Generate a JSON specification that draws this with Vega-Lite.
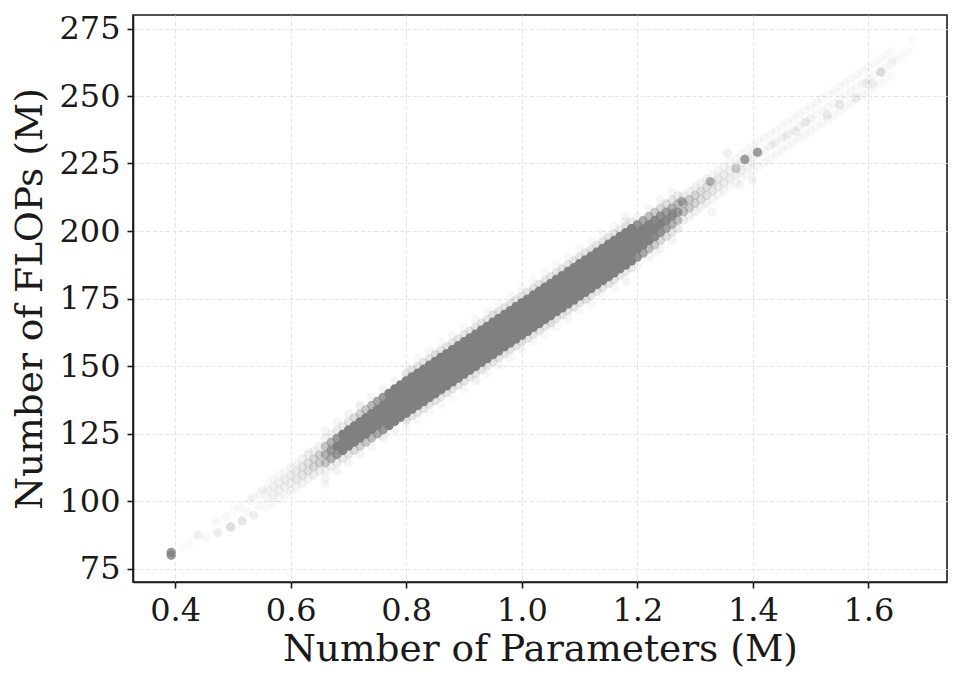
{
"$schema": "https://vega.github.io/schema/vega-lite/v6.json",
"width": 814, "height": 567,
"autosize": {"type": "none"},
"padding": {"left": 133, "top": 15, "right": 16, "bottom": 104},
"background": "white",
"config": {
 "font": "DejaVu Serif",
 "view": {"stroke": "#1a1a1a", "strokeWidth": 1.6},
 "axis": {"domainColor": "#1a1a1a", "domainWidth": 1.6, "tickColor": "#1a1a1a", "tickWidth": 1.6, "tickSize": 6, "labelFont": "DejaVu Serif", "labelFontSize": 32, "labelColor": "#1a1a1a", "labelPadding": 7, "labelFlush": false, "labelOverlap": false, "titleFont": "DejaVu Serif", "titleFontSize": 37.5, "titleFontWeight": "normal", "titleColor": "#1a1a1a", "gridColor": "#e4e4e4", "gridDash": [4, 2.5], "gridWidth": 1}
},
"data": {"values": [
{"params":0.393,"flops":79.9,"n":40},{"params":0.393,"flops":81.0,"n":40},
{"params":0.411,"flops":83.0,"n":2},{"params":0.425,"flops":84.5,"n":2},{"params":0.439,"flops":87.4,"n":6},{"params":0.454,"flops":86.7,"n":3},{"params":0.474,"flops":88.3,"n":7},{"params":0.471,"flops":92.3,"n":3},{"params":0.489,"flops":94.3,"n":3},{"params":0.496,"flops":90.4,"n":13},{"params":0.50,"flops":97.0,"n":2},{"params":0.512,"flops":97.6,"n":3},{"params":0.516,"flops":92.6,"n":10},{"params":0.525,"flops":96.0,"n":3},{"params":0.529,"flops":100.3,"n":3},{"params":0.536,"flops":94.7,"n":6},{"params":0.5346,"flops":101.5,"n":4},{"params":0.545,"flops":98.0,"n":3},{"params":0.552,"flops":104.0,"n":4},{"params":0.547,"flops":102.5,"n":3},
{"params":0.56,"flops":98.0,"n":2},{"params":0.56,"flops":101.0,"n":4},{"params":0.56,"flops":104.0,"n":4},{"params":0.56,"flops":107.0,"n":2},
{"params":0.57,"flops":99.4,"n":3},{"params":0.57,"flops":102.4,"n":5},{"params":0.57,"flops":105.4,"n":5},{"params":0.57,"flops":108.4,"n":3},
{"params":0.58,"flops":100.8,"n":3},{"params":0.58,"flops":103.8,"n":5},{"params":0.58,"flops":106.8,"n":5},{"params":0.58,"flops":109.8,"n":3},
{"params":0.59,"flops":102.1,"n":3},{"params":0.59,"flops":105.1,"n":6},{"params":0.59,"flops":108.1,"n":6},{"params":0.59,"flops":111.1,"n":3},
{"params":0.60,"flops":103.5,"n":4},{"params":0.60,"flops":106.5,"n":6},{"params":0.60,"flops":109.5,"n":6},{"params":0.60,"flops":112.5,"n":4},
{"params":0.61,"flops":105.0,"n":4},{"params":0.61,"flops":108.0,"n":8},{"params":0.61,"flops":111.0,"n":8},{"params":0.61,"flops":114.0,"n":4},
{"params":0.62,"flops":106.6,"n":5},{"params":0.62,"flops":109.6,"n":10},{"params":0.62,"flops":112.6,"n":10},{"params":0.62,"flops":115.6,"n":5},
{"params":0.63,"flops":108.1,"n":5},{"params":0.63,"flops":111.1,"n":12},{"params":0.63,"flops":114.1,"n":12},{"params":0.63,"flops":117.1,"n":5},
{"params":0.64,"flops":109.6,"n":6},{"params":0.64,"flops":112.6,"n":15},{"params":0.64,"flops":115.6,"n":15},{"params":0.64,"flops":118.6,"n":6},
{"params":0.65,"flops":111.1,"n":6},{"params":0.65,"flops":114.1,"n":18},{"params":0.65,"flops":117.1,"n":18},{"params":0.65,"flops":120.1,"n":6},
{"params":0.66,"flops":111.2,"n":5},{"params":0.66,"flops":114.2,"n":22},{"params":0.66,"flops":117.2,"n":30},{"params":0.66,"flops":120.2,"n":22},{"params":0.66,"flops":123.2,"n":5},{"params":0.66,"flops":108.2,"n":4},{"params":0.66,"flops":126.2,"n":4},
{"params":0.67,"flops":112.7,"n":6},{"params":0.67,"flops":115.7,"n":30},{"params":0.67,"flops":118.7,"n":40},{"params":0.67,"flops":121.7,"n":30},{"params":0.67,"flops":124.7,"n":6},
{"params":0.68,"flops":114.2,"n":7},{"params":0.68,"flops":117.2,"n":40},{"params":0.68,"flops":120.2,"n":50},{"params":0.68,"flops":123.2,"n":40},{"params":0.68,"flops":126.2,"n":7},{"params":0.68,"flops":111.2,"n":4},{"params":0.68,"flops":129.2,"n":4},
{"params":0.69,"flops":115.7,"n":8},{"params":0.69,"flops":118.7,"n":50},{"params":0.69,"flops":121.7,"n":50},{"params":0.69,"flops":124.7,"n":50},{"params":0.69,"flops":127.7,"n":8},
{"params":0.70,"flops":117.3,"n":10},{"params":0.70,"flops":120.3,"n":50},{"params":0.70,"flops":123.3,"n":50},{"params":0.70,"flops":126.3,"n":50},{"params":0.70,"flops":129.3,"n":10},{"params":0.70,"flops":114.3,"n":4},{"params":0.70,"flops":132.3,"n":4},
{"params":0.71,"flops":118.8,"n":14},{"params":0.71,"flops":121.8,"n":50},{"params":0.71,"flops":124.8,"n":50},{"params":0.71,"flops":127.8,"n":50},{"params":0.71,"flops":130.8,"n":14},
{"params":0.72,"flops":120.3,"n":18},{"params":0.72,"flops":123.3,"n":50},{"params":0.72,"flops":126.3,"n":50},{"params":0.72,"flops":129.3,"n":50},{"params":0.72,"flops":132.3,"n":18},{"params":0.72,"flops":117.3,"n":4},{"params":0.72,"flops":135.3,"n":4},
{"params":0.73,"flops":121.8,"n":22},{"params":0.73,"flops":124.8,"n":50},{"params":0.73,"flops":127.8,"n":50},{"params":0.73,"flops":130.8,"n":50},{"params":0.73,"flops":133.8,"n":22},
{"params":0.74,"flops":123.4,"n":28},{"params":0.74,"flops":126.4,"n":50},{"params":0.74,"flops":129.4,"n":50},{"params":0.74,"flops":132.4,"n":50},{"params":0.74,"flops":135.4,"n":28},{"params":0.74,"flops":120.4,"n":4},{"params":0.74,"flops":138.4,"n":4},
{"params":0.75,"flops":124.9,"n":34},{"params":0.75,"flops":127.9,"n":50},{"params":0.75,"flops":130.9,"n":50},{"params":0.75,"flops":133.9,"n":50},{"params":0.75,"flops":136.9,"n":34},
{"params":0.76,"flops":126.4,"n":40},{"params":0.76,"flops":129.4,"n":50},{"params":0.76,"flops":132.4,"n":50},{"params":0.76,"flops":135.4,"n":50},{"params":0.76,"flops":138.4,"n":40},{"params":0.76,"flops":123.4,"n":4},{"params":0.76,"flops":141.4,"n":4},
{"params":0.77,"flops":127.9,"n":50},{"params":0.77,"flops":130.9,"n":50},{"params":0.77,"flops":133.9,"n":50},{"params":0.77,"flops":136.9,"n":50},{"params":0.77,"flops":139.9,"n":50},
{"params":0.78,"flops":129.5,"n":50},{"params":0.78,"flops":132.5,"n":50},{"params":0.78,"flops":135.5,"n":50},{"params":0.78,"flops":138.5,"n":50},{"params":0.78,"flops":141.5,"n":50},{"params":0.78,"flops":126.5,"n":4},{"params":0.78,"flops":144.5,"n":4},
{"params":0.79,"flops":131.0,"n":50},{"params":0.79,"flops":134.0,"n":50},{"params":0.79,"flops":137.0,"n":50},{"params":0.79,"flops":140.0,"n":50},{"params":0.79,"flops":143.0,"n":50},
{"params":0.80,"flops":132.5,"n":50},{"params":0.80,"flops":135.5,"n":50},{"params":0.80,"flops":138.5,"n":50},{"params":0.80,"flops":141.5,"n":50},{"params":0.80,"flops":144.5,"n":50},{"params":0.80,"flops":130.0,"n":10},{"params":0.80,"flops":147.0,"n":10},{"params":0.80,"flops":127.0,"n":3},{"params":0.80,"flops":150.0,"n":3},
{"params":0.81,"flops":134.0,"n":50},{"params":0.81,"flops":137.0,"n":50},{"params":0.81,"flops":140.0,"n":50},{"params":0.81,"flops":143.0,"n":50},{"params":0.81,"flops":146.0,"n":50},{"params":0.81,"flops":131.5,"n":10},{"params":0.81,"flops":148.5,"n":10},
{"params":0.82,"flops":135.4,"n":50},{"params":0.82,"flops":138.4,"n":50},{"params":0.82,"flops":141.4,"n":50},{"params":0.82,"flops":144.4,"n":50},{"params":0.82,"flops":147.4,"n":50},{"params":0.82,"flops":132.9,"n":10},{"params":0.82,"flops":149.9,"n":10},{"params":0.82,"flops":129.9,"n":3},{"params":0.82,"flops":152.9,"n":3},
{"params":0.83,"flops":136.8,"n":50},{"params":0.83,"flops":139.8,"n":50},{"params":0.83,"flops":142.8,"n":50},{"params":0.83,"flops":145.8,"n":50},{"params":0.83,"flops":148.8,"n":50},{"params":0.83,"flops":134.3,"n":10},{"params":0.83,"flops":151.3,"n":10},
{"params":0.84,"flops":138.3,"n":50},{"params":0.84,"flops":141.3,"n":50},{"params":0.84,"flops":144.3,"n":50},{"params":0.84,"flops":147.3,"n":50},{"params":0.84,"flops":150.3,"n":50},{"params":0.84,"flops":135.8,"n":10},{"params":0.84,"flops":152.8,"n":10},{"params":0.84,"flops":132.8,"n":3},{"params":0.84,"flops":155.8,"n":3},
{"params":0.85,"flops":139.7,"n":50},{"params":0.85,"flops":142.7,"n":50},{"params":0.85,"flops":145.7,"n":50},{"params":0.85,"flops":148.7,"n":50},{"params":0.85,"flops":151.7,"n":50},{"params":0.85,"flops":137.2,"n":10},{"params":0.85,"flops":154.2,"n":10},
{"params":0.86,"flops":141.2,"n":50},{"params":0.86,"flops":144.2,"n":50},{"params":0.86,"flops":147.2,"n":50},{"params":0.86,"flops":150.2,"n":50},{"params":0.86,"flops":153.2,"n":50},{"params":0.86,"flops":138.7,"n":10},{"params":0.86,"flops":155.7,"n":10},{"params":0.86,"flops":135.7,"n":3},{"params":0.86,"flops":158.7,"n":3},
{"params":0.87,"flops":142.6,"n":50},{"params":0.87,"flops":145.6,"n":50},{"params":0.87,"flops":148.6,"n":50},{"params":0.87,"flops":151.6,"n":50},{"params":0.87,"flops":154.6,"n":50},{"params":0.87,"flops":140.1,"n":10},{"params":0.87,"flops":157.1,"n":10},
{"params":0.88,"flops":144.1,"n":50},{"params":0.88,"flops":147.1,"n":50},{"params":0.88,"flops":150.1,"n":50},{"params":0.88,"flops":153.1,"n":50},{"params":0.88,"flops":156.1,"n":50},{"params":0.88,"flops":141.6,"n":10},{"params":0.88,"flops":158.6,"n":10},{"params":0.88,"flops":138.6,"n":3},{"params":0.88,"flops":161.6,"n":3},
{"params":0.89,"flops":145.5,"n":50},{"params":0.89,"flops":148.5,"n":50},{"params":0.89,"flops":151.5,"n":50},{"params":0.89,"flops":154.5,"n":50},{"params":0.89,"flops":157.5,"n":50},{"params":0.89,"flops":143.0,"n":10},{"params":0.89,"flops":160.0,"n":10},
{"params":0.90,"flops":147.0,"n":50},{"params":0.90,"flops":150.0,"n":50},{"params":0.90,"flops":153.0,"n":50},{"params":0.90,"flops":156.0,"n":50},{"params":0.90,"flops":159.0,"n":50},{"params":0.90,"flops":144.5,"n":10},{"params":0.90,"flops":161.5,"n":10},{"params":0.90,"flops":141.5,"n":3},{"params":0.90,"flops":164.5,"n":3},
{"params":0.91,"flops":148.4,"n":50},{"params":0.91,"flops":151.4,"n":50},{"params":0.91,"flops":154.4,"n":50},{"params":0.91,"flops":157.4,"n":50},{"params":0.91,"flops":160.4,"n":50},{"params":0.91,"flops":145.9,"n":10},{"params":0.91,"flops":162.9,"n":10},
{"params":0.92,"flops":149.8,"n":50},{"params":0.92,"flops":152.8,"n":50},{"params":0.92,"flops":155.8,"n":50},{"params":0.92,"flops":158.8,"n":50},{"params":0.92,"flops":161.8,"n":50},{"params":0.92,"flops":147.3,"n":10},{"params":0.92,"flops":164.3,"n":10},{"params":0.92,"flops":144.3,"n":3},{"params":0.92,"flops":167.3,"n":3},
{"params":0.93,"flops":151.3,"n":50},{"params":0.93,"flops":154.3,"n":50},{"params":0.93,"flops":157.3,"n":50},{"params":0.93,"flops":160.3,"n":50},{"params":0.93,"flops":163.3,"n":50},{"params":0.93,"flops":148.8,"n":10},{"params":0.93,"flops":165.8,"n":10},
{"params":0.94,"flops":152.7,"n":50},{"params":0.94,"flops":155.7,"n":50},{"params":0.94,"flops":158.7,"n":50},{"params":0.94,"flops":161.7,"n":50},{"params":0.94,"flops":164.7,"n":50},{"params":0.94,"flops":150.2,"n":10},{"params":0.94,"flops":167.2,"n":10},{"params":0.94,"flops":147.2,"n":3},{"params":0.94,"flops":170.2,"n":3},
{"params":0.95,"flops":154.2,"n":50},{"params":0.95,"flops":157.2,"n":50},{"params":0.95,"flops":160.2,"n":50},{"params":0.95,"flops":163.2,"n":50},{"params":0.95,"flops":166.2,"n":50},{"params":0.95,"flops":151.7,"n":10},{"params":0.95,"flops":168.7,"n":10},
{"params":0.96,"flops":155.6,"n":50},{"params":0.96,"flops":158.6,"n":50},{"params":0.96,"flops":161.6,"n":50},{"params":0.96,"flops":164.6,"n":50},{"params":0.96,"flops":167.6,"n":50},{"params":0.96,"flops":153.1,"n":10},{"params":0.96,"flops":170.1,"n":10},{"params":0.96,"flops":150.1,"n":3},{"params":0.96,"flops":173.1,"n":3},
{"params":0.97,"flops":157.1,"n":50},{"params":0.97,"flops":160.1,"n":50},{"params":0.97,"flops":163.1,"n":50},{"params":0.97,"flops":166.1,"n":50},{"params":0.97,"flops":169.1,"n":50},{"params":0.97,"flops":154.6,"n":10},{"params":0.97,"flops":171.6,"n":10},
{"params":0.98,"flops":158.5,"n":50},{"params":0.98,"flops":161.5,"n":50},{"params":0.98,"flops":164.5,"n":50},{"params":0.98,"flops":167.5,"n":50},{"params":0.98,"flops":170.5,"n":50},{"params":0.98,"flops":156.0,"n":10},{"params":0.98,"flops":173.0,"n":10},{"params":0.98,"flops":153.0,"n":3},{"params":0.98,"flops":176.0,"n":3},
{"params":0.99,"flops":160.0,"n":50},{"params":0.99,"flops":163.0,"n":50},{"params":0.99,"flops":166.0,"n":50},{"params":0.99,"flops":169.0,"n":50},{"params":0.99,"flops":172.0,"n":50},{"params":0.99,"flops":157.5,"n":10},{"params":0.99,"flops":174.5,"n":10},
{"params":1.00,"flops":161.4,"n":50},{"params":1.00,"flops":164.4,"n":50},{"params":1.00,"flops":167.4,"n":50},{"params":1.00,"flops":170.4,"n":50},{"params":1.00,"flops":173.4,"n":50},{"params":1.00,"flops":158.9,"n":10},{"params":1.00,"flops":175.9,"n":10},{"params":1.00,"flops":155.9,"n":3},{"params":1.00,"flops":178.9,"n":3},
{"params":1.01,"flops":162.8,"n":50},{"params":1.01,"flops":165.8,"n":50},{"params":1.01,"flops":168.8,"n":50},{"params":1.01,"flops":171.8,"n":50},{"params":1.01,"flops":174.8,"n":50},{"params":1.01,"flops":160.3,"n":10},{"params":1.01,"flops":177.3,"n":10},
{"params":1.02,"flops":164.3,"n":50},{"params":1.02,"flops":167.3,"n":50},{"params":1.02,"flops":170.3,"n":50},{"params":1.02,"flops":173.3,"n":50},{"params":1.02,"flops":176.3,"n":50},{"params":1.02,"flops":161.8,"n":10},{"params":1.02,"flops":178.8,"n":10},{"params":1.02,"flops":158.8,"n":3},{"params":1.02,"flops":181.8,"n":3},
{"params":1.03,"flops":165.7,"n":50},{"params":1.03,"flops":168.7,"n":50},{"params":1.03,"flops":171.7,"n":50},{"params":1.03,"flops":174.7,"n":50},{"params":1.03,"flops":177.7,"n":50},{"params":1.03,"flops":163.2,"n":10},{"params":1.03,"flops":180.2,"n":10},
{"params":1.04,"flops":167.2,"n":50},{"params":1.04,"flops":170.2,"n":50},{"params":1.04,"flops":173.2,"n":50},{"params":1.04,"flops":176.2,"n":50},{"params":1.04,"flops":179.2,"n":50},{"params":1.04,"flops":164.7,"n":10},{"params":1.04,"flops":181.7,"n":10},{"params":1.04,"flops":161.7,"n":3},{"params":1.04,"flops":184.7,"n":3},
{"params":1.05,"flops":168.6,"n":50},{"params":1.05,"flops":171.6,"n":50},{"params":1.05,"flops":174.6,"n":50},{"params":1.05,"flops":177.6,"n":50},{"params":1.05,"flops":180.6,"n":50},{"params":1.05,"flops":166.1,"n":10},{"params":1.05,"flops":183.1,"n":10},
{"params":1.06,"flops":170.1,"n":50},{"params":1.06,"flops":173.1,"n":50},{"params":1.06,"flops":176.1,"n":50},{"params":1.06,"flops":179.1,"n":50},{"params":1.06,"flops":182.1,"n":50},{"params":1.06,"flops":167.6,"n":10},{"params":1.06,"flops":184.6,"n":10},{"params":1.06,"flops":164.6,"n":3},{"params":1.06,"flops":187.6,"n":3},
{"params":1.07,"flops":171.5,"n":50},{"params":1.07,"flops":174.5,"n":50},{"params":1.07,"flops":177.5,"n":50},{"params":1.07,"flops":180.5,"n":50},{"params":1.07,"flops":183.5,"n":50},{"params":1.07,"flops":169.0,"n":10},{"params":1.07,"flops":186.0,"n":10},
{"params":1.08,"flops":173.0,"n":50},{"params":1.08,"flops":176.0,"n":50},{"params":1.08,"flops":179.0,"n":50},{"params":1.08,"flops":182.0,"n":50},{"params":1.08,"flops":185.0,"n":50},{"params":1.08,"flops":170.5,"n":10},{"params":1.08,"flops":187.5,"n":10},{"params":1.08,"flops":167.5,"n":3},{"params":1.08,"flops":190.5,"n":3},
{"params":1.09,"flops":174.4,"n":50},{"params":1.09,"flops":177.4,"n":50},{"params":1.09,"flops":180.4,"n":50},{"params":1.09,"flops":183.4,"n":50},{"params":1.09,"flops":186.4,"n":50},{"params":1.09,"flops":171.9,"n":10},{"params":1.09,"flops":188.9,"n":10},
{"params":1.10,"flops":175.9,"n":50},{"params":1.10,"flops":178.9,"n":50},{"params":1.10,"flops":181.9,"n":50},{"params":1.10,"flops":184.9,"n":50},{"params":1.10,"flops":187.9,"n":50},{"params":1.10,"flops":173.4,"n":10},{"params":1.10,"flops":190.4,"n":10},{"params":1.10,"flops":170.4,"n":3},{"params":1.10,"flops":193.4,"n":3},
{"params":1.11,"flops":177.3,"n":50},{"params":1.11,"flops":180.3,"n":50},{"params":1.11,"flops":183.3,"n":50},{"params":1.11,"flops":186.3,"n":50},{"params":1.11,"flops":189.3,"n":50},{"params":1.11,"flops":174.8,"n":10},{"params":1.11,"flops":191.8,"n":10},
{"params":1.12,"flops":178.7,"n":50},{"params":1.12,"flops":181.7,"n":50},{"params":1.12,"flops":184.7,"n":50},{"params":1.12,"flops":187.7,"n":50},{"params":1.12,"flops":190.7,"n":50},{"params":1.12,"flops":176.2,"n":10},{"params":1.12,"flops":193.2,"n":10},{"params":1.12,"flops":173.2,"n":3},{"params":1.12,"flops":196.2,"n":3},
{"params":1.13,"flops":180.2,"n":50},{"params":1.13,"flops":183.2,"n":50},{"params":1.13,"flops":186.2,"n":50},{"params":1.13,"flops":189.2,"n":50},{"params":1.13,"flops":192.2,"n":50},{"params":1.13,"flops":177.7,"n":10},{"params":1.13,"flops":194.7,"n":10},
{"params":1.14,"flops":181.6,"n":50},{"params":1.14,"flops":184.6,"n":50},{"params":1.14,"flops":187.6,"n":50},{"params":1.14,"flops":190.6,"n":50},{"params":1.14,"flops":193.6,"n":50},{"params":1.14,"flops":179.1,"n":10},{"params":1.14,"flops":196.1,"n":10},{"params":1.14,"flops":176.1,"n":3},{"params":1.14,"flops":199.1,"n":3},
{"params":1.15,"flops":183.1,"n":50},{"params":1.15,"flops":186.1,"n":50},{"params":1.15,"flops":189.1,"n":50},{"params":1.15,"flops":192.1,"n":50},{"params":1.15,"flops":195.1,"n":50},{"params":1.15,"flops":180.6,"n":10},{"params":1.15,"flops":197.6,"n":10},
{"params":1.16,"flops":184.5,"n":50},{"params":1.16,"flops":187.5,"n":50},{"params":1.16,"flops":190.5,"n":50},{"params":1.16,"flops":193.5,"n":50},{"params":1.16,"flops":196.5,"n":50},{"params":1.16,"flops":182.0,"n":10},{"params":1.16,"flops":199.0,"n":10},{"params":1.16,"flops":179.0,"n":3},{"params":1.16,"flops":202.0,"n":3},
{"params":1.17,"flops":186.0,"n":50},{"params":1.17,"flops":189.0,"n":50},{"params":1.17,"flops":192.0,"n":50},{"params":1.17,"flops":195.0,"n":50},{"params":1.17,"flops":198.0,"n":50},{"params":1.17,"flops":183.5,"n":8},{"params":1.17,"flops":200.5,"n":8},
{"params":1.18,"flops":187.4,"n":50},{"params":1.18,"flops":190.4,"n":50},{"params":1.18,"flops":193.4,"n":50},{"params":1.18,"flops":196.4,"n":50},{"params":1.18,"flops":199.4,"n":50},{"params":1.18,"flops":184.9,"n":8},{"params":1.18,"flops":201.9,"n":8},{"params":1.18,"flops":181.4,"n":4},{"params":1.18,"flops":205.4,"n":4},
{"params":1.19,"flops":188.9,"n":50},{"params":1.19,"flops":191.9,"n":50},{"params":1.19,"flops":194.9,"n":50},{"params":1.19,"flops":197.9,"n":50},{"params":1.19,"flops":200.9,"n":50},{"params":1.19,"flops":186.4,"n":8},{"params":1.19,"flops":203.4,"n":8},
{"params":1.20,"flops":190.3,"n":42},{"params":1.20,"flops":193.3,"n":50},{"params":1.20,"flops":196.3,"n":50},{"params":1.20,"flops":199.3,"n":50},{"params":1.20,"flops":202.3,"n":42},{"params":1.20,"flops":187.3,"n":4},{"params":1.20,"flops":205.3,"n":4},
{"params":1.21,"flops":191.8,"n":34},{"params":1.21,"flops":194.8,"n":50},{"params":1.21,"flops":197.8,"n":50},{"params":1.21,"flops":200.8,"n":50},{"params":1.21,"flops":203.8,"n":34},
{"params":1.22,"flops":193.4,"n":26},{"params":1.22,"flops":196.4,"n":50},{"params":1.22,"flops":199.4,"n":50},{"params":1.22,"flops":202.4,"n":50},{"params":1.22,"flops":205.4,"n":26},{"params":1.22,"flops":190.4,"n":4},{"params":1.22,"flops":208.4,"n":4},
{"params":1.23,"flops":194.9,"n":20},{"params":1.23,"flops":197.9,"n":46},{"params":1.23,"flops":200.9,"n":50},{"params":1.23,"flops":203.9,"n":46},{"params":1.23,"flops":206.9,"n":20},
{"params":1.24,"flops":196.5,"n":15},{"params":1.24,"flops":199.5,"n":42},{"params":1.24,"flops":202.5,"n":50},{"params":1.24,"flops":205.5,"n":42},{"params":1.24,"flops":208.5,"n":15},{"params":1.24,"flops":193.5,"n":4},{"params":1.24,"flops":211.5,"n":4},
{"params":1.25,"flops":198.0,"n":12},{"params":1.25,"flops":201.0,"n":36},{"params":1.25,"flops":204.0,"n":46},{"params":1.25,"flops":207.0,"n":36},{"params":1.25,"flops":210.0,"n":12},
{"params":1.26,"flops":199.5,"n":10},{"params":1.26,"flops":202.5,"n":30},{"params":1.26,"flops":205.5,"n":42},{"params":1.26,"flops":208.5,"n":30},{"params":1.26,"flops":211.5,"n":10},{"params":1.26,"flops":196.5,"n":4},{"params":1.26,"flops":214.5,"n":4},
{"params":1.27,"flops":201.0,"n":8},{"params":1.27,"flops":204.0,"n":25},{"params":1.27,"flops":207.0,"n":38},{"params":1.27,"flops":210.0,"n":25},{"params":1.27,"flops":213.0,"n":8},
{"params":1.28,"flops":204.1,"n":7},{"params":1.28,"flops":207.1,"n":24},{"params":1.28,"flops":210.1,"n":24},{"params":1.28,"flops":213.1,"n":7},
{"params":1.29,"flops":205.6,"n":6},{"params":1.29,"flops":208.6,"n":20},{"params":1.29,"flops":211.6,"n":20},{"params":1.29,"flops":214.6,"n":6},
{"params":1.30,"flops":207.2,"n":6},{"params":1.30,"flops":210.2,"n":16},{"params":1.30,"flops":213.2,"n":16},{"params":1.30,"flops":216.2,"n":6},
{"params":1.31,"flops":208.7,"n":5},{"params":1.31,"flops":211.7,"n":13},{"params":1.31,"flops":214.7,"n":13},{"params":1.31,"flops":217.7,"n":5},
{"params":1.32,"flops":210.2,"n":5},{"params":1.32,"flops":213.2,"n":11},{"params":1.32,"flops":216.2,"n":11},{"params":1.32,"flops":219.2,"n":5},
{"params":1.33,"flops":211.8,"n":4},{"params":1.33,"flops":214.8,"n":9},{"params":1.33,"flops":217.8,"n":9},{"params":1.33,"flops":220.8,"n":4},
{"params":1.34,"flops":213.3,"n":4},{"params":1.34,"flops":216.3,"n":8},{"params":1.34,"flops":219.3,"n":8},{"params":1.34,"flops":222.3,"n":4},
{"params":1.35,"flops":214.9,"n":4},{"params":1.35,"flops":217.9,"n":7},{"params":1.35,"flops":220.9,"n":7},{"params":1.35,"flops":223.9,"n":4},
{"params":1.36,"flops":216.4,"n":3},{"params":1.36,"flops":219.4,"n":6},{"params":1.36,"flops":222.4,"n":6},{"params":1.36,"flops":225.4,"n":3},
{"params":1.37,"flops":217.9,"n":3},{"params":1.37,"flops":220.9,"n":5},{"params":1.37,"flops":223.9,"n":5},{"params":1.37,"flops":226.9,"n":3},
{"params":1.38,"flops":219.4,"n":3},{"params":1.38,"flops":222.4,"n":5},{"params":1.38,"flops":225.4,"n":5},{"params":1.38,"flops":228.4,"n":3},
{"params":1.39,"flops":221.0,"n":3},{"params":1.39,"flops":224.0,"n":5},{"params":1.39,"flops":227.0,"n":5},{"params":1.39,"flops":230.0,"n":3},
{"params":1.40,"flops":222.5,"n":3},{"params":1.40,"flops":225.5,"n":4},{"params":1.40,"flops":228.5,"n":4},{"params":1.40,"flops":231.5,"n":3},
{"params":1.41,"flops":224.0,"n":3},{"params":1.41,"flops":228.5,"n":4},{"params":1.41,"flops":233.0,"n":3},
{"params":1.42,"flops":225.4,"n":3},{"params":1.42,"flops":229.9,"n":4},{"params":1.42,"flops":234.4,"n":3},
{"params":1.43,"flops":226.9,"n":3},{"params":1.43,"flops":231.4,"n":4},{"params":1.43,"flops":235.9,"n":3},
{"params":1.44,"flops":228.3,"n":3},{"params":1.44,"flops":232.8,"n":4},{"params":1.44,"flops":237.3,"n":3},
{"params":1.45,"flops":229.8,"n":3},{"params":1.45,"flops":234.3,"n":4},{"params":1.45,"flops":238.8,"n":3},
{"params":1.46,"flops":231.3,"n":3},{"params":1.46,"flops":235.8,"n":4},{"params":1.46,"flops":240.3,"n":3},
{"params":1.47,"flops":232.7,"n":3},{"params":1.47,"flops":237.2,"n":4},{"params":1.47,"flops":241.7,"n":3},
{"params":1.48,"flops":234.2,"n":3},{"params":1.48,"flops":238.7,"n":4},{"params":1.48,"flops":243.2,"n":3},
{"params":1.49,"flops":235.6,"n":3},{"params":1.49,"flops":240.1,"n":4},{"params":1.49,"flops":244.6,"n":3},
{"params":1.50,"flops":237.1,"n":3},{"params":1.50,"flops":241.6,"n":4},{"params":1.50,"flops":246.1,"n":3},
{"params":1.51,"flops":238.6,"n":3},{"params":1.51,"flops":243.1,"n":3},{"params":1.51,"flops":247.6,"n":3},
{"params":1.52,"flops":240.0,"n":3},{"params":1.52,"flops":244.5,"n":3},{"params":1.52,"flops":249.0,"n":3},
{"params":1.53,"flops":241.5,"n":3},{"params":1.53,"flops":246.0,"n":3},{"params":1.53,"flops":250.5,"n":3},
{"params":1.54,"flops":242.9,"n":3},{"params":1.54,"flops":247.4,"n":3},{"params":1.54,"flops":251.9,"n":3},
{"params":1.55,"flops":244.4,"n":3},{"params":1.55,"flops":248.9,"n":3},{"params":1.55,"flops":253.4,"n":3},
{"params":1.56,"flops":245.9,"n":3},{"params":1.56,"flops":250.4,"n":3},{"params":1.56,"flops":254.9,"n":3},
{"params":1.57,"flops":247.3,"n":3},{"params":1.57,"flops":251.8,"n":3},{"params":1.57,"flops":256.3,"n":3},
{"params":1.58,"flops":248.8,"n":3},{"params":1.58,"flops":253.3,"n":3},{"params":1.58,"flops":257.8,"n":3},
{"params":1.59,"flops":250.2,"n":3},{"params":1.59,"flops":254.7,"n":3},{"params":1.59,"flops":259.2,"n":3},
{"params":1.60,"flops":251.7,"n":3},{"params":1.60,"flops":256.2,"n":3},{"params":1.60,"flops":260.7,"n":3},
{"params":1.61,"flops":253.2,"n":2},{"params":1.61,"flops":257.7,"n":3},{"params":1.61,"flops":262.2,"n":2},
{"params":1.62,"flops":254.6,"n":2},{"params":1.62,"flops":259.1,"n":3},{"params":1.62,"flops":263.6,"n":2},
{"params":1.63,"flops":256.1,"n":2},{"params":1.63,"flops":260.6,"n":3},{"params":1.63,"flops":265.1,"n":2},
{"params":1.64,"flops":257.5,"n":2},{"params":1.64,"flops":262.0,"n":3},{"params":1.64,"flops":266.5,"n":2},
{"params":1.65,"flops":263.5,"n":2},{"params":1.66,"flops":264.9,"n":2},{"params":1.67,"flops":266.4,"n":2},{"params":1.676,"flops":270.8,"n":2},
{"params":1.277,"flops":211.0,"n":30},{"params":1.261,"flops":206.5,"n":30},{"params":1.326,"flops":218.3,"n":28},{"params":1.371,"flops":223.1,"n":18},{"params":1.386,"flops":226.5,"n":38},{"params":1.408,"flops":229.2,"n":38},{"params":1.356,"flops":228.8,"n":6},{"params":1.40,"flops":218.8,"n":5},{"params":1.377,"flops":217.0,"n":4},{"params":1.329,"flops":207.0,"n":4},
{"params":1.622,"flops":258.8,"n":12},{"params":1.55,"flops":246.8,"n":7},{"params":1.528,"flops":242.9,"n":7},{"params":1.607,"flops":254.6,"n":5},{"params":1.596,"flops":254.6,"n":5},{"params":1.578,"flops":249.4,"n":6},{"params":1.642,"flops":263.3,"n":3},{"params":1.492,"flops":240.4,"n":5},{"params":1.475,"flops":236.7,"n":5},{"params":1.457,"flops":234.9,"n":4},{"params":1.434,"flops":232.4,"n":4},
{"params":0.921,"flops":144.8,"n":3},{"params":1.111,"flops":174.4,"n":3},{"params":1.178,"flops":203.4,"n":4},{"params":1.232,"flops":192.2,"n":4},{"params":0.72,"flops":135.5,"n":3},{"params":0.76,"flops":124.0,"n":3},{"params":0.85,"flops":155.0,"n":3},{"params":1.05,"flops":165.0,"n":3},{"params":0.95,"flops":170.0,"n":3},{"params":0.66,"flops":106.0,"n":3},{"params":0.63,"flops":118.0,"n":3}
]},
"mark": {"type": "circle", "color": "#808080", "size": 86, "strokeWidth": 0},
"encoding": {
 "x": {"field": "params", "type": "quantitative", "scale": {"domain": [0.327, 1.736], "nice": false, "zero": false}, "axis": {"values": [0.4, 0.6, 0.8, 1.0, 1.2, 1.4, 1.6], "format": ".1f", "title": "Number of Parameters (M)", "titlePadding": 4}},
 "y": {"field": "flops", "type": "quantitative", "scale": {"domain": [70, 280], "nice": false, "zero": false}, "axis": {"values": [75, 100, 125, 150, 175, 200, 225, 250, 275], "title": "Number of FLOPs (M)", "titlePadding": 9}},
 "opacity": {"field": "n", "type": "quantitative", "scale": {"domain": [0, 50], "range": [0, 1], "clamp": true}, "legend": null}
}
}
